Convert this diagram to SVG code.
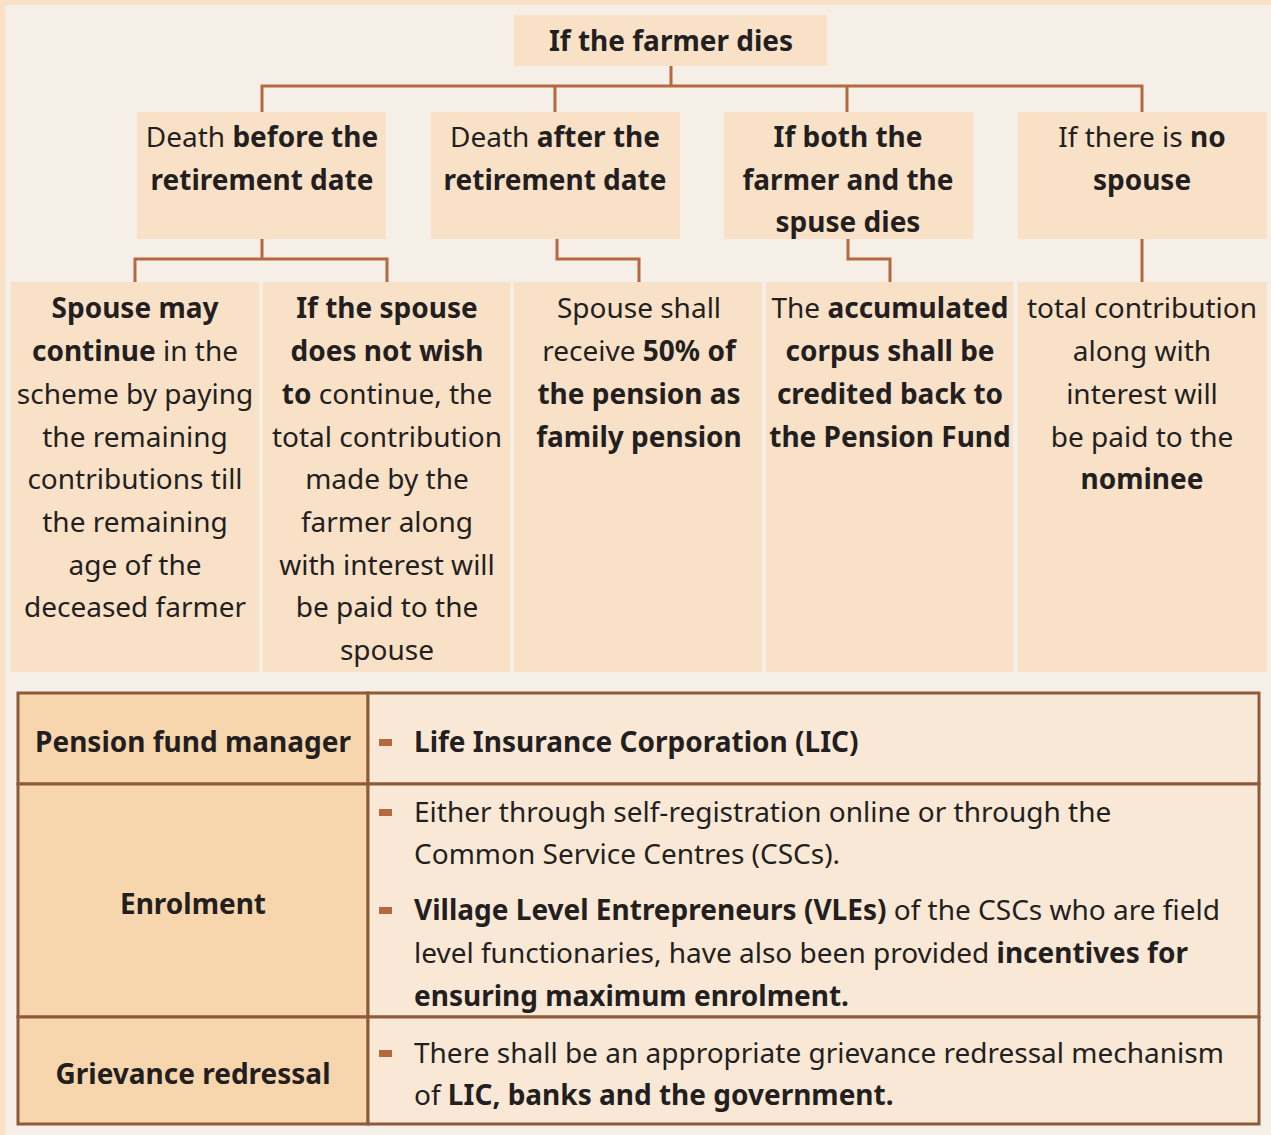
<svg xmlns="http://www.w3.org/2000/svg" width="1271" height="1135" viewBox="0 0 1271 1135">
<style>
text{font-family:"Noto Sans","Open Sans","Liberation Sans",sans-serif;font-size:28px;fill:#231f20}
.c{text-anchor:middle}
.b{font-weight:bold}
.box{fill:#f9e1c8}
.ln{fill:none;stroke:#b5693e;stroke-width:3}
.cell1{fill:#f7d6ad;stroke:#8d5b3a;stroke-width:3}
.cell2{fill:#fae8d6;stroke:#8d5b3a;stroke-width:3}
.bul{fill:#b5693e}
</style>
<rect x="0" y="0" width="1271" height="1135" fill="#f9e1c8"/>
<rect x="5" y="5" width="1266" height="1130" fill="#f6efe8"/>
<g id="connectors">
<path class="ln" d="M671 66V86M262 112V86H1142V112M555 86V112M847 86V112"/>
<path class="ln" d="M262 239V259M135 282V259H387V282"/>
<path class="ln" d="M557 239V259H639V282"/>
<path class="ln" d="M848 239V259H890V282"/>
<path class="ln" d="M1142 239V282"/>
</g>
<g id="root"><rect class="box" x="514" y="15" width="313" height="51"/>
<text class="c b" x="671" y="51">If the farmer dies</text></g>
<g id="n-before"><rect class="box" x="137" y="112" width="249" height="127"/>
<text class="c" x="262" y="147">Death <tspan class="b">before the</tspan></text>
<text class="c b" x="262" y="190">retirement date</text></g>
<g id="n-after"><rect class="box" x="431" y="112" width="249" height="127"/>
<text class="c" x="555" y="147">Death <tspan class="b">after the</tspan></text>
<text class="c b" x="555" y="190">retirement date</text></g>
<g id="n-both"><rect class="box" x="724" y="112" width="249" height="127"/>
<text class="c b" x="848" y="147">If both the</text>
<text class="c b" x="848" y="190">farmer and the</text>
<text class="c b" x="848" y="232">spuse dies</text></g>
<g id="n-nospouse"><rect class="box" x="1018" y="112" width="249" height="127"/>
<text class="c" x="1142" y="147">If there is <tspan class="b">no</tspan></text>
<text class="c b" x="1142" y="190">spouse</text></g>
<g id="l-continue"><rect class="box" x="11" y="282" width="248" height="390"/>
<text class="c b" x="135" y="318">Spouse may</text>
<text class="c" x="135" y="361"><tspan class="b">continue</tspan> in the</text>
<text class="c" x="135" y="404">scheme by paying</text>
<text class="c" x="135" y="447">the remaining</text>
<text class="c" x="135" y="489">contributions till</text>
<text class="c" x="135" y="532">the remaining</text>
<text class="c" x="135" y="575">age of the</text>
<text class="c" x="135" y="617">deceased farmer</text></g>
<g id="l-nowish"><rect class="box" x="263" y="282" width="247" height="390"/>
<text class="c b" x="387" y="318">If the spouse</text>
<text class="c b" x="387" y="361">does not wish</text>
<text class="c" x="387" y="404"><tspan class="b">to</tspan> continue, the</text>
<text class="c" x="387" y="447">total contribution</text>
<text class="c" x="387" y="489">made by the</text>
<text class="c" x="387" y="532">farmer along</text>
<text class="c" x="387" y="575">with interest will</text>
<text class="c" x="387" y="617">be paid to the</text>
<text class="c" x="387" y="660">spouse</text></g>
<g id="l-family"><rect class="box" x="514" y="282" width="248" height="390"/>
<text class="c" x="639" y="318">Spouse shall</text>
<text class="c" x="639" y="361">receive <tspan class="b">50% of</tspan></text>
<text class="c b" x="639" y="404">the pension as</text>
<text class="c b" x="639" y="447">family pension</text></g>
<g id="l-corpus"><rect class="box" x="766" y="282" width="247" height="390"/>
<text class="c" x="890" y="318">The <tspan class="b">accumulated</tspan></text>
<text class="c b" x="890" y="361">corpus shall be</text>
<text class="c b" x="890" y="404">credited back to</text>
<text class="c b" x="890" y="447">the Pension Fund</text></g>
<g id="l-nominee"><rect class="box" x="1018" y="282" width="249" height="390"/>
<text class="c" x="1142" y="318">total contribution</text>
<text class="c" x="1142" y="361">along with</text>
<text class="c" x="1142" y="404">interest will</text>
<text class="c" x="1142" y="447">be paid to the</text>
<text class="c b" x="1142" y="489">nominee</text></g>
<g id="table">
<rect class="cell1" x="18" y="693" width="350" height="91"/>
<rect class="cell2" x="368" y="693" width="891" height="91"/>
<rect class="cell1" x="18" y="784" width="350" height="233"/>
<rect class="cell2" x="368" y="784" width="891" height="233"/>
<rect class="cell1" x="18" y="1017" width="350" height="107"/>
<rect class="cell2" x="368" y="1017" width="891" height="107"/>
<text class="c b" x="193" y="752">Pension fund manager</text>
<text class="c b" x="193" y="914">Enrolment</text>
<text class="c b" x="193" y="1084">Grievance redressal</text>
<rect class="bul" x="379" y="739" width="13" height="7"/>
<rect class="bul" x="379" y="809" width="13" height="7"/>
<rect class="bul" x="379" y="907" width="13" height="7"/>
<rect class="bul" x="379" y="1050" width="13" height="7"/>
<text class="b" x="414" y="752">Life Insurance Corporation (LIC)</text>
<text x="414" y="822">Either through self-registration online or through the</text>
<text x="414" y="864">Common Service Centres (CSCs).</text>
<text x="414" y="920"><tspan class="b">Village Level Entrepreneurs (VLEs)</tspan> of the CSCs who are field</text>
<text x="414" y="963">level functionaries, have also been provided <tspan class="b">incentives for</tspan></text>
<text class="b" x="414" y="1006">ensuring maximum enrolment.</text>
<text x="414" y="1063">There shall be an appropriate grievance redressal mechanism</text>
<text x="414" y="1105">of <tspan class="b">LIC, banks and the government.</tspan></text>
</g>
</svg>
